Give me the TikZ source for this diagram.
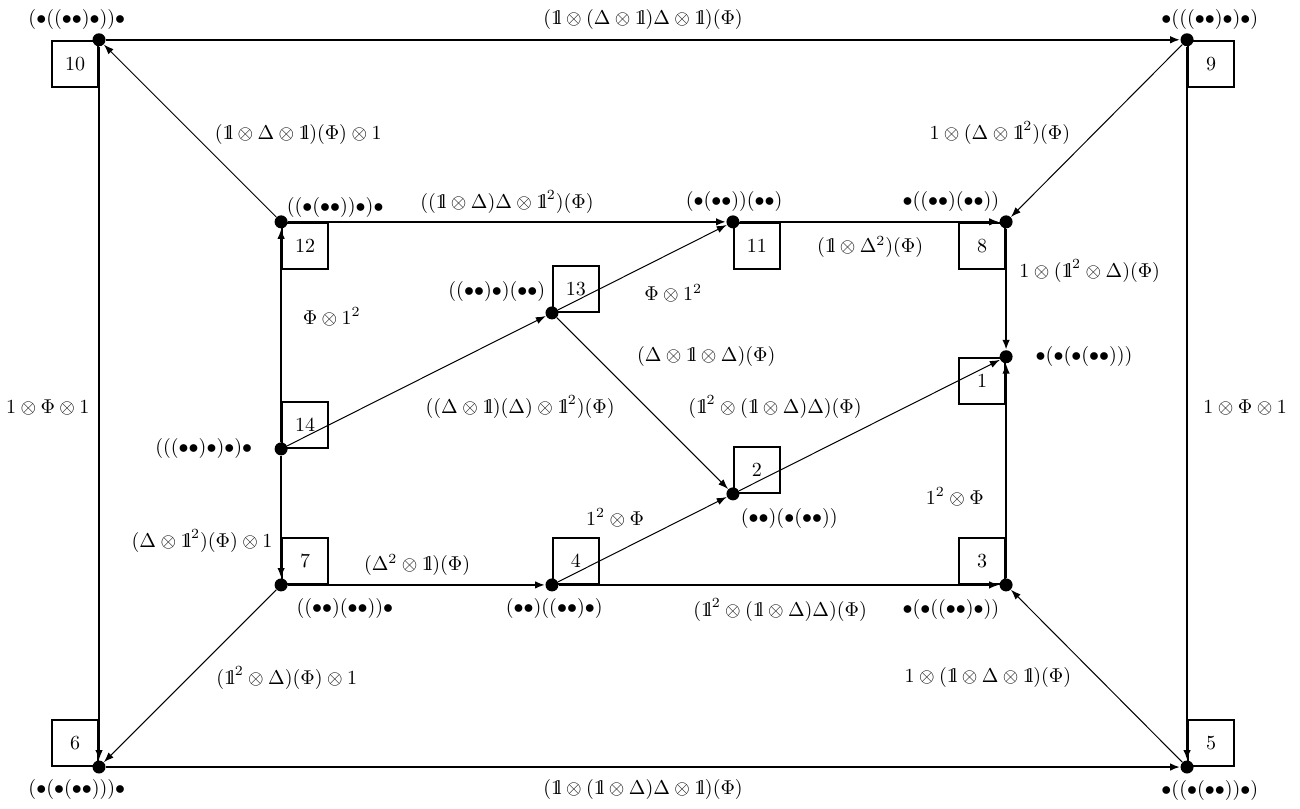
\documentclass[tikz,border=0pt]{standalone}
\usepackage{tikz}
\usetikzlibrary{arrows.meta,positioning}
\newcommand{\one}{\mathrm{1\mskip-4.5mu l}}
\newcommand{\bb}{\bullet}

\tikzset{
  dot/.style={circle, fill=black, inner sep=0pt, minimum size=6.5pt},
  numbox/.style={rectangle, draw, line width=0.9pt, minimum size=0.81cm, inner sep=0pt},
  heavy/.style={line width=1.1pt, -{Latex[length=5pt,width=3.8pt]}},
  light/.style={line width=0.5pt, -{Latex[length=5pt,width=3.6pt]}},
  lbl/.style={inner sep=1pt}
}

\begin{document}
\begin{tikzpicture}
\useasboundingbox (0,0) rectangle (22.845,14.199);

% vertices
\node[dot] (n10) at (1.74,13.50) {};
\node[dot] (n9)  at (20.86,13.50) {};
\node[dot] (n6)  at (1.74,0.72) {};
\node[dot] (n5)  at (20.86,0.72) {};
\node[dot] (n12) at (4.94,10.30) {};
\node[dot] (n11) at (12.88,10.30) {};
\node[dot] (n8)  at (17.68,10.30) {};
\node[dot] (n13) at (9.70,8.70) {};
\node[dot] (n1)  at (17.68,7.93) {};
\node[dot] (n14) at (4.94,6.31) {};
\node[dot] (n2)  at (12.88,5.52) {};
\node[dot] (n7)  at (4.94,3.92) {};
\node[dot] (n4)  at (9.70,3.92) {};
\node[dot] (n3)  at (17.68,3.92) {};

% numbered boxes
\node[numbox, anchor=north east] (b10) at (n10) {10};
\node[numbox, anchor=north west] (b9)  at (n9)  {9};
\node[numbox, anchor=south east] (b6)  at (n6)  {6};
\node[numbox, anchor=south west] (b5)  at (n5)  {5};
\node[numbox, anchor=north west] (b12) at (n12) {12};
\node[numbox, anchor=north west] (b11) at (n11) {11};
\node[numbox, anchor=north east] (b8)  at (n8)  {8};
\node[numbox, anchor=south west] (b13) at (n13) {13};
\node[numbox, anchor=north east] (b1)  at (n1)  {1};
\node[numbox, anchor=south west] (b14) at (n14) {14};
\node[numbox, anchor=south west] (b2)  at (n2)  {2};
\node[numbox, anchor=south west] (b7)  at (n7)  {7};
\node[numbox, anchor=south west] (b4)  at (n4)  {4};
\node[numbox, anchor=south east] (b3)  at (n3)  {3};

% bracketings
\node[lbl] (t10) at (1.35,13.85)  {$(\bb((\bb\bb)\bb))\bb$};
\node[lbl] (t9)  at (21.26,13.85) {$\bb(((\bb\bb)\bb)\bb)$};
\node[lbl] (t12) at (5.89,10.56)  {$((\bb(\bb\bb))\bb)\bb$};
\node[lbl] (t11) at (12.90,10.65) {$(\bb(\bb\bb))(\bb\bb)$};
\node[lbl] (t8)  at (16.71,10.65) {$\bb((\bb\bb)(\bb\bb))$};
\node[lbl] (t13) at (8.73,9.07)   {$((\bb\bb)\bb)(\bb\bb)$};
\node[lbl] (t1)  at (19.05,7.93)  {$\bb(\bb(\bb(\bb\bb)))$};
\node[lbl] (t14) at (3.58,6.31)   {$(((\bb\bb)\bb)\bb)\bb$};
\node[lbl] (t2)  at (13.87,5.08)  {$(\bb\bb)(\bb(\bb\bb))$};
\node[lbl] (t7)  at (6.06,3.51)   {$((\bb\bb)(\bb\bb))\bb$};
\node[lbl] (t4)  at (9.74,3.51)   {$(\bb\bb)((\bb\bb)\bb)$};
\node[lbl] (t3)  at (16.71,3.48)  {$\bb(\bb((\bb\bb)\bb))$};
\node[lbl] (t6)  at (1.35,0.32)   {$(\bb(\bb(\bb\bb)))\bb$};
\node[lbl] (t5)  at (21.26,0.30)  {$\bb((\bb(\bb\bb))\bb)$};

% outer square
\draw[heavy] (n10) -- (n9);
\draw[heavy] (n6) -- (n5);
\draw[heavy] (n10) -- (n6);
\draw[heavy] (n9) -- (n5);
\draw[light] (n12) -- (n10);
\draw[light] (n9) -- (n8);
\draw[light] (n7) -- (n6);
\draw[light] (n5) -- (n3);

% inner square
\draw[heavy] (n12) -- (n11);
\draw[heavy] (n11) -- (n8);
\draw[heavy] (n8) -- (n1);
\draw[heavy] (n3) -- (n1);
\draw[heavy] (n7) -- (n4);
\draw[heavy] (n4) -- (n3);
\draw[heavy] (n14) -- (n12);
\draw[heavy] (n14) -- (n7);
\draw[light] (n14) -- (n13);
\draw[light] (n13) -- (n11);
\draw[light] (n13) -- (n2);
\draw[light] (n4) -- (n2);
\draw[light] (n2) -- (n1);

% edge labels
\node[lbl] (e10-9)  at (11.30,13.85) {$(\one\otimes(\Delta\otimes\one)\Delta\otimes\one)(\Phi)$};
\node[lbl] (e6-5)   at (11.30,0.32)  {$(\one\otimes(\one\otimes\Delta)\Delta\otimes\one)(\Phi)$};
\node[lbl] (e10-6)  at (0.84,7.03)   {$1\otimes\Phi\otimes1$};
\node[lbl] (e9-5)   at (21.88,7.03)  {$1\otimes\Phi\otimes1$};
\node[lbl] (e12-10) at (5.24,11.83)  {$(\one\otimes\Delta\otimes\one)(\Phi)\otimes1$};
\node[lbl] (e9-8)   at (17.57,11.86) {$1\otimes(\Delta\otimes\one^2)(\Phi)$};
\node[lbl] (e7-6)   at (5.04,2.28)   {$(\one^2\otimes\Delta)(\Phi)\otimes1$};
\node[lbl] (e5-3)   at (17.36,2.30)  {$1\otimes(\one\otimes\Delta\otimes\one)(\Phi)$};
\node[lbl] (e12-11) at (8.91,10.65)  {$((\one\otimes\Delta)\Delta\otimes\one^2)(\Phi)$};
\node[lbl] (e11-8)  at (15.29,9.86)  {$(\one\otimes\Delta^2)(\Phi)$};
\node[lbl] (e8-1)   at (19.15,9.44)  {$1\otimes(\one^2\otimes\Delta)(\Phi)$};
\node[lbl] (e3-1)   at (16.78,5.47)  {$1^2\otimes\Phi$};
\node[lbl] (e14-12) at (5.83,8.63)   {$\Phi\otimes1^2$};
\node[lbl] (e14-7)  at (3.55,4.69)   {$(\Delta\otimes\one^2)(\Phi)\otimes1$};
\node[lbl] (e7-4)   at (7.33,4.27)   {$(\Delta^2\otimes\one)(\Phi)$};
\node[lbl] (e4-3)   at (13.71,3.48)  {$(\one^2\otimes(\one\otimes\Delta)\Delta)(\Phi)$};
\node[lbl] (e14-13) at (9.14,7.05)   {$((\Delta\otimes\one)(\Delta)\otimes\one^2)(\Phi)$};
\node[lbl] (e13-11) at (11.83,9.05)  {$\Phi\otimes1^2$};
\node[lbl] (e13-2)  at (12.41,7.93)  {$(\Delta\otimes\one\otimes\Delta)(\Phi)$};
\node[lbl] (e2-1)   at (13.62,7.05)  {$(\one^2\otimes(\one\otimes\Delta)\Delta)(\Phi)$};
\node[lbl] (e4-2)   at (10.81,5.10)  {$1^2\otimes\Phi$};
\end{tikzpicture}
\end{document}
